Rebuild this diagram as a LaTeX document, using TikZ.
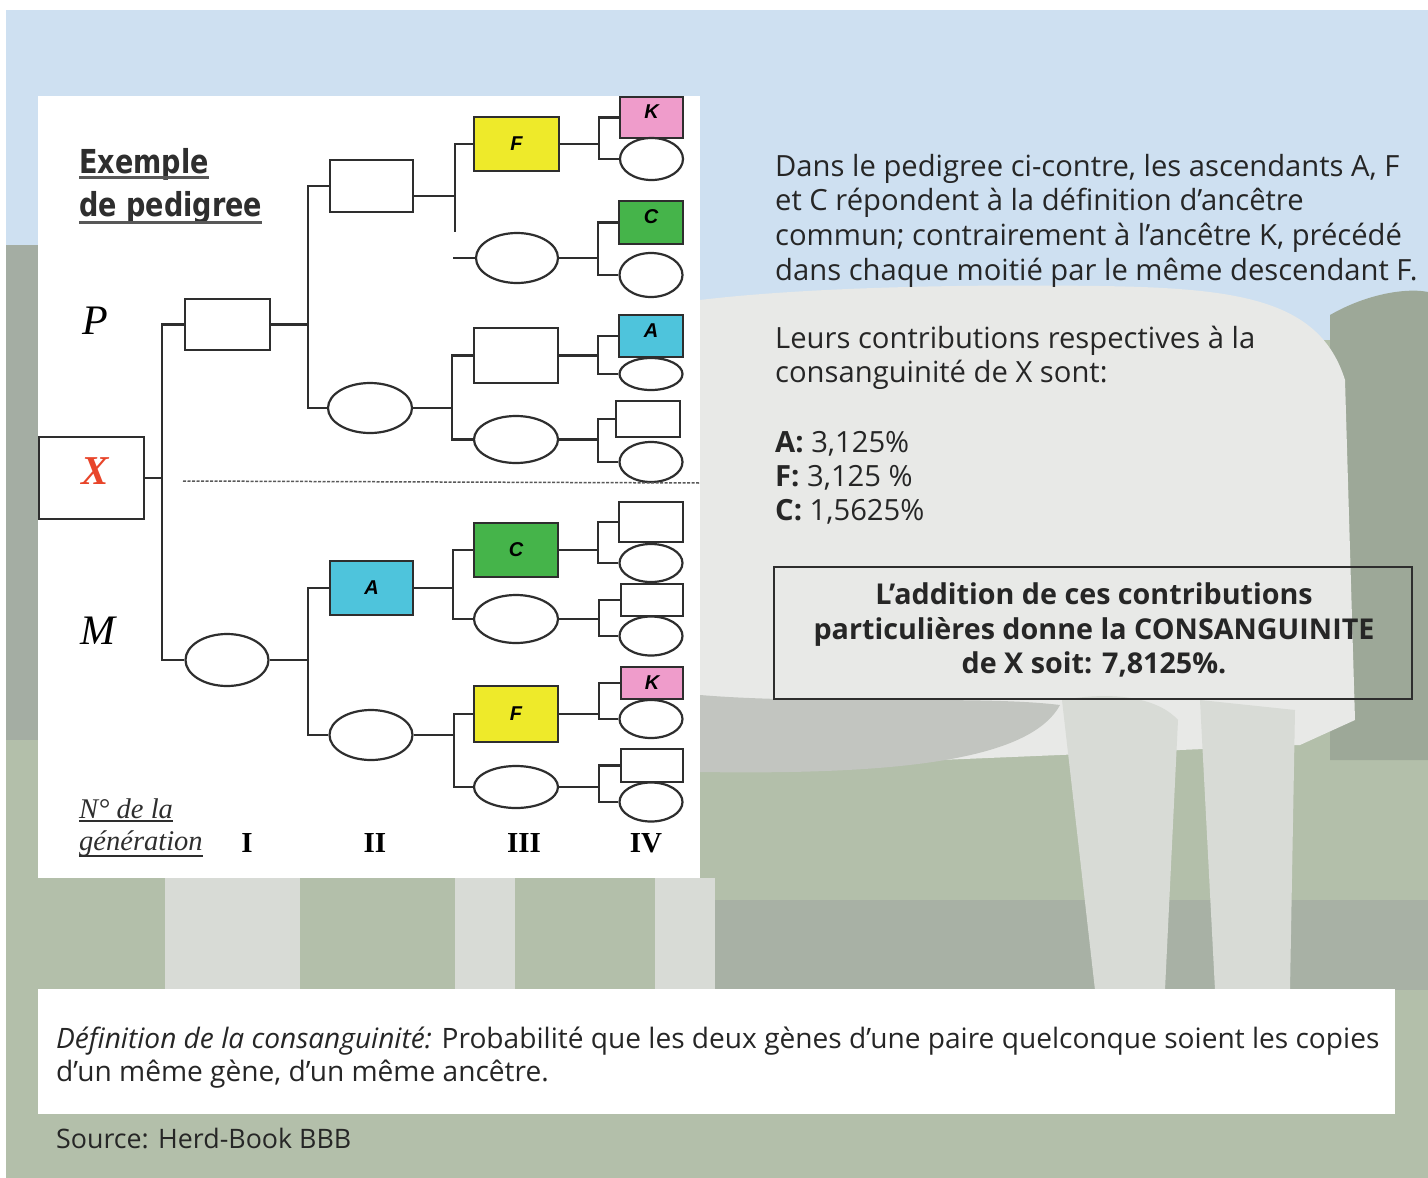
\documentclass[tikz,border=0pt]{standalone}
\usepackage{fontspec}
\setmainfont{Open Sans}
\newfontfamily\serifit{Liberation Serif}
\newfontfamily\titlef{DejaVu Sans}[FakeStretch=0.82]
\newfontfamily\labf{Liberation Sans}
\usetikzlibrary{shapes.geometric}
\definecolor{linec}{HTML}{2E2E2E}
\definecolor{txt}{HTML}{262626}
\definecolor{sky}{HTML}{CEE0F1}
\definecolor{grass}{HTML}{B3BFAA}
\definecolor{grassdark}{HTML}{A8B1A5}
\definecolor{hedge}{HTML}{A4ADA3}
\definecolor{hedger}{HTML}{9DA898}
\definecolor{cow}{HTML}{E8E9E7}
\definecolor{cowleg}{HTML}{D8DBD6}
\definecolor{belly}{HTML}{C2C5C0}
\definecolor{pyellow}{HTML}{EEEA2A}
\definecolor{pgreen}{HTML}{45B44A}
\definecolor{pcyan}{HTML}{4EC4DC}
\definecolor{ppink}{HTML}{EF9CCB}
\definecolor{xred}{HTML}{E8452A}
\tikzset{
  conn/.style={draw=linec, line width=2.4pt},
  sq/.style={rectangle, draw=linec, line width=2.4pt, fill=white, inner sep=0pt},
  el/.style={ellipse, draw=linec, line width=2.2pt, fill=white, inner sep=0pt},
  lab/.style={font=\labf\fontsize{20}{20}\selectfont\bfseries\itshape, text=black},
  body/.style={anchor=base west, inner sep=0pt, text=txt, font=\fontsize{29.2}{34}\selectfont},
  defn/.style={anchor=base west, inner sep=0pt, text=txt, font=\fontsize{28.1}{34}\selectfont},
  boxt/.style={anchor=base, inner sep=0pt, text=txt, font=\fontsize{28.7}{34}\selectfont\bfseries},
  gen/.style={anchor=base, inner sep=0pt, text=black, font=\serifit\fontsize{29}{29}\selectfont\bfseries},
}
\newcommand\famfork[4]{%
  \coordinate (#1j) at ([xshift=-#4pt]#2.west |- #1.east);
  \draw[conn] (#1.east) -- (#1j);
  \draw[conn] (#2.west) -- ++(-#4,0) |- (#3.west);
}
\begin{document}
\begin{tikzpicture}[x=1pt,y=-1pt]
\useasboundingbox (0,0) rectangle (1428,1178);
\fill[white] (0,0) rectangle (1428,1178);
% ---------- background scene ----------
\fill[grass] (6,10) rectangle (1428,1178);
\fill[sky] (6,10) rectangle (1428,340);
\fill[hedge] (6,245) rectangle (40,740);
\fill[hedger] (1330,315) .. controls (1370,292) and (1410,288) .. (1428,292) -- (1428,760) -- (1330,760) -- cycle;
\fill[cow] (700,300) .. controls (800,288) and (950,284) .. (1100,286) .. controls (1240,288) and (1320,300) .. (1345,380)
  -- (1355,720) -- (1300,745) -- (700,770) -- cycle;
\fill[belly] (700,695) .. controls (820,705) and (980,695) .. (1060,705) .. controls (1030,760) and (900,775) .. (700,772) -- cycle;
\fill[grassdark] (700,900) rectangle (1428,990);
\fill[cowleg] (1062,700) .. controls (1120,690) and (1160,700) .. (1178,720) -- (1165,990) -- (1095,990) -- cycle;
\fill[cowleg] (1200,700) -- (1295,710) -- (1290,990) -- (1215,990) -- cycle;
\fill[cowleg] (165,878) rectangle (300,990);
\fill[cowleg] (455,878) rectangle (515,990);
\fill[cowleg] (655,878) rectangle (715,990);
% ---------- pedigree panel ----------
\fill[white] (38,96) rectangle (700,878);
\node[anchor=base west, inner sep=0pt, text=linec, font=\titlef\fontsize{33}{33}\selectfont\bfseries] (ex1) at (79,173) {Exemple};
\node[anchor=base west, inner sep=0pt, text=linec, font=\titlef\fontsize{33}{33}\selectfont\bfseries] (ex2) at (79,216) {de pedigree};
\draw[linec!80, line width=3pt] (ex1.base west) ++(0,4) coordinate (u1a) -- (u1a -| ex1.east);
\draw[linec!80, line width=3pt] (ex2.base west) ++(0,6) coordinate (u2a) -- (u2a -| ex2.east);
\node[inner sep=0pt, font=\serifit\fontsize{42}{42}\selectfont\itshape] (labP) at (95,321) {P};
\node[inner sep=0pt, font=\serifit\fontsize{42}{42}\selectfont\itshape] (labM) at (98,631) {M};
% generation I
\node[sq, line width=2.2pt, minimum width=105pt, minimum height=82pt] (X) at (91.5,478) {};
\node[inner sep=0pt, text=xred, font=\serifit\fontsize{41}{41}\selectfont\bfseries\itshape] (Xl) at (95,471) {X};
\node[sq, minimum width=85pt, minimum height=51pt] (P) at (227.5,324.5) {};
\node[el, minimum width=83pt, minimum height=52pt] (M) at (227,660) {};
% generation II
\node[sq, minimum width=83pt, minimum height=52pt] (P1) at (371.5,186) {};
\node[el, minimum width=84pt, minimum height=50pt] (P2) at (370,408) {};
\node[sq, fill=pcyan, minimum width=83pt, minimum height=54pt] (M1) at (371.5,588) {};
\node[lab] at (M1) {A};
\node[el, minimum width=83pt, minimum height=50pt] (M2) at (371,735) {};
% generation III
\node[sq, fill=pyellow, minimum width=85pt, minimum height=54pt] (P11) at (516.5,144) {};
\node[lab] at (P11) {F};
\node[el, minimum width=82pt, minimum height=50pt] (P12) at (517,258) {};
\node[sq, minimum width=84pt, minimum height=55pt] (P21) at (516,355.5) {};
\node[el, minimum width=84pt, minimum height=47pt] (P22) at (516,439.5) {};
\node[sq, fill=pgreen, minimum width=84pt, minimum height=54pt] (M11) at (516,550) {};
\node[lab] at (M11) {C};
\node[el, minimum width=84pt, minimum height=48pt] (M12) at (516,619) {};
\node[sq, fill=pyellow, minimum width=84pt, minimum height=56pt] (M21) at (516,714) {};
\node[lab] at (M21) {F};
\node[el, minimum width=84pt, minimum height=42pt] (M22) at (516,787) {};
% generation IV
\node[sq, fill=ppink, minimum width=63pt, minimum height=41pt] (P111) at (651.5,117.5) {};
\node[lab, anchor=north] at ([yshift=-5pt]P111.north) {K};
\node[el, minimum width=63pt, minimum height=42pt] (P112) at (651.5,159) {};
\node[sq, fill=pgreen, minimum width=64pt, minimum height=43pt] (P121) at (651,222.5) {};
\node[lab, anchor=north] at ([yshift=-6pt]P121.north) {C};
\node[el, minimum width=63pt, minimum height=44pt] (P122) at (651,275) {};
\node[sq, fill=pcyan, minimum width=64pt, minimum height=42pt] (P211) at (651,336) {};
\node[lab, anchor=north] at ([yshift=-6pt]P211.north) {A};
\node[el, minimum width=63pt, minimum height=32pt] (P212) at (651,374) {};
\node[sq, minimum width=64pt, minimum height=36pt] (P221) at (648,419) {};
\node[el, minimum width=63pt, minimum height=40pt] (P222) at (651,462) {};
\node[sq, minimum width=64pt, minimum height=40pt] (M111) at (651,522) {};
\node[el, minimum width=63pt, minimum height=38pt] (M112) at (651,563) {};
\node[sq, minimum width=62pt, minimum height=32pt] (M121) at (652,600) {};
\node[el, minimum width=63pt, minimum height=39pt] (M122) at (651,636) {};
\node[sq, fill=ppink, minimum width=62pt, minimum height=32pt] (M211) at (652,683) {};
\node[lab] at (M211) {K};
\node[el, minimum width=63pt, minimum height=38pt] (M212) at (651,719) {};
\node[sq, minimum width=62pt, minimum height=33pt] (M221) at (652,765.5) {};
\node[el, minimum width=63pt, minimum height=39pt] (M222) at (651,802) {};
% connectors
\famfork{X}{P}{M}{22}
\famfork{P}{P1}{P2}{21}
\famfork{P2}{P21}{P22}{21}
\famfork{M}{M1}{M2}{21}
\famfork{M1}{M11}{M12}{20}
\famfork{M2}{M21}{M22}{19}
\famfork{P11}{P111}{P112}{20}
\famfork{P12}{P121}{P122}{20}
\famfork{P21}{P211}{P212}{20}
\famfork{P22}{P221}{P222}{17}
\famfork{M11}{M111}{M112}{20}
\famfork{M12}{M121}{M122}{21}
\famfork{M21}{M211}{M212}{21}
\famfork{M22}{M221}{M222}{21}
% irregular fork behind P1
\coordinate (P1j) at (455,196);
\draw[conn] ([yshift=-10pt]P1.east) -- (P1j);
\coordinate (qa) at (455,232);
\draw[conn] (P11.west) -| (qa);
\coordinate (qc) at (453,258);
\draw[conn] (P12.west) -- (qc);
% separation line
\coordinate (d1) at (183,481);
\coordinate (d2) at (700,483);
\draw[gray!70!black, line width=1.5pt, dash pattern=on 3pt off 1.5pt] (d1) -- (d2);
% generation labels
\node[anchor=base west, inner sep=0pt, font=\serifit\fontsize{28.5}{28.5}\selectfont\itshape, text=linec] (ng1) at (79,818) {N° de la};
\node[anchor=base west, inner sep=0pt, font=\serifit\fontsize{28.5}{28.5}\selectfont\itshape, text=linec] (ng2) at (79,850) {génération};
\draw[linec, line width=1.8pt] (ng1.base west) ++(0,3) coordinate (u3a) -- (u3a -| ng1.east);
\draw[linec, line width=1.8pt] (ng2.base west) ++(0,6) coordinate (u4a) -- (u4a -| ng2.east);
\node[gen] (g1) at (247,852) {I};
\node[gen] (g2) at (375,852) {II};
\node[gen] (g3) at (524,852) {III};
\node[gen] (g4) at (646,852) {IV};
% ---------- right-hand text ----------
\node[body] (t1) at (775,176) {Dans le pedigree ci-contre, les ascendants A, F};
\node[body] (t2) at (775,210.7) {et C répondent à la définition d’ancêtre};
\node[body] (t3) at (775,245.4) {commun; contrairement à l’ancêtre K, précédé};
\node[body] (t4) at (775,280) {dans chaque moitié par le même descendant F.};
\node[body] (t5) at (775,348) {Leurs contributions respectives à la};
\node[body] (t6) at (775,382.5) {consanguinité de X sont:};
\node[body] (t7) at (775,452.7) {\textbf{A:} 3,125\%};
\node[body] (t8) at (775,486.5) {\textbf{F:} 3,125 \%};
\node[body] (t9) at (775,520) {\textbf{C:} 1,5625\%};
% summary box
\draw[linec, line width=2pt] (774,567) rectangle (1412,699);
\node[boxt] (s1) at (1094,604) {L’addition de ces contributions};
\node[boxt] (s2) at (1094,639) {particulières donne la CONSANGUINITE};
\node[boxt] (s3) at (1094,673) {de X soit: 7,8125\%.};
% definition box
\fill[white] (38,989) rectangle (1395,1114);
\node[defn] (d1t) at (56,1048) {\textit{Définition de la consanguinité:} Probabilité que les deux gènes d’une paire quelconque soient les copies};
\node[defn] (d2t) at (56,1081) {d’un même gène, d’un même ancêtre.};
\node[defn, font=\fontsize{26.8}{34}\selectfont] (src) at (56,1148) {Source: Herd-Book BBB};
\end{tikzpicture}
\end{document}
